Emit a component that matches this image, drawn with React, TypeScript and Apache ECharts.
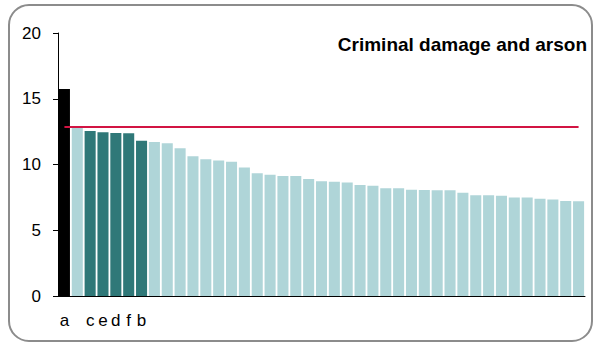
import React, { useEffect, useRef } from "react";
import * as echarts from "echarts";

const title = "Criminal damage and arson";
const categories = [
  "a", "", "c", "e", "d", "f", "b", "", "", "", "", "", "", "", "", "", "", "", "", "", "",
  "", "", "", "", "", "", "", "", "", "", "", "", "", "", "", "", "", "", "", "",
];
const values = [
  15.75, 12.85, 12.55, 12.45, 12.4, 12.37, 11.8, 11.72, 11.62, 11.24, 10.62, 10.4, 10.3,
  10.2, 9.77, 9.33, 9.22, 9.13, 9.13, 8.9, 8.72, 8.69, 8.64, 8.44, 8.39, 8.19, 8.19, 8.08,
  8.06, 8.05, 8.05, 7.86, 7.66, 7.66, 7.63, 7.5, 7.5, 7.4, 7.33, 7.22, 7.21,
];
// group of each bar: "main" (a), "peer" (c,e,d,f,b), "other"
const groups = [
  "main", "other", "peer", "peer", "peer", "peer", "peer",
  ...Array(34).fill("other"),
];
const average = 12.9;
const yTicks = [0, 5, 10, 15, 20];

const groupColors: Record<string, string> = {
  main: "#000000",
  peer: "#2f7878",
  other: "#afd5d8",
};

const FONT = "'Liberation Sans', Arial, sans-serif";

export default function App() {
  const ref = useRef<HTMLDivElement>(null);
  useEffect(() => {
    if (!ref.current) return;
    const chart = echarts.init(ref.current, null, { renderer: "svg" });
    chart.setOption({
      animation: false,
      textStyle: { fontFamily: FONT },
      title: {
        text: title,
        right: 7,
        top: 35,
        padding: 0,
        textStyle: { fontFamily: FONT, fontSize: 19, fontWeight: "bold", color: "#000" },
      },
      graphic: [
        {
          type: "rect",
          shape: { x: 9, y: 5, width: 583, height: 336, r: 20 },
          style: { fill: "none", stroke: "#8c8c8c", lineWidth: 2 },
          z: -10,
        },
      ],
      grid: { left: 58, right: 9, top: 33, bottom: 48, containLabel: false },
      xAxis: {
        type: "category",
        data: categories,
        axisLine: { show: true, lineStyle: { color: "#000", width: 1 } },
        axisTick: { show: false },
        axisLabel: {
          interval: 0,
          margin: 16,
          color: "#000",
          fontSize: 17,
          fontFamily: FONT,
        },
      },
      yAxis: {
        type: "value",
        min: yTicks[0],
        max: yTicks[yTicks.length - 1],
        interval: 5,
        splitLine: { show: false },
        axisLine: { show: true, lineStyle: { color: "#000", width: 1 } },
        axisTick: { show: true, length: 5, lineStyle: { color: "#000" } },
        axisLabel: { margin: 17, color: "#000", fontSize: 17, fontFamily: FONT },
      },
      series: [
        {
          type: "bar",
          barCategoryGap: "14%",
          data: values.map((v, i) => ({
            value: v,
            itemStyle: { color: groupColors[groups[i]] },
          })),
          markLine: {
            silent: true,
            symbol: "none",
            label: { show: false },
            lineStyle: { color: "#d21443", width: 2, type: "solid" },
            data: [
              [
                { xAxis: 0, yAxis: average },
                { xAxis: categories.length - 1, yAxis: average },
              ],
            ],
          },
        },
      ],
    });
    return () => chart.dispose();
  }, []);
  return (
    <div
      ref={ref}
      style={{ position: "absolute", left: 0, top: 0, width: 594, height: 344 }}
    />
  );
}
